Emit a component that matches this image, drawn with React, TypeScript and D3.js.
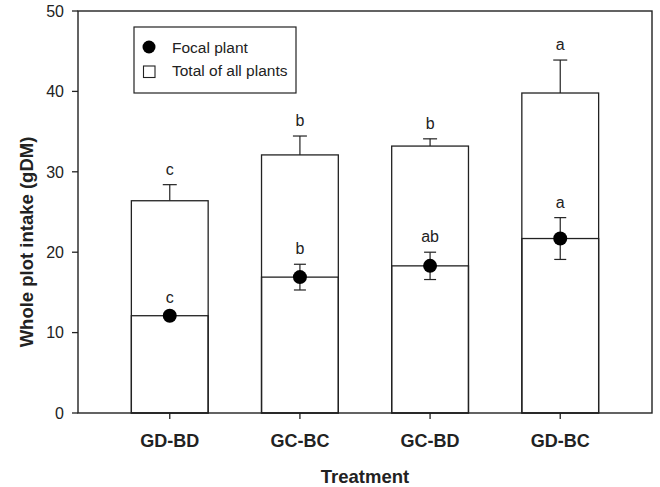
import React from 'react';
import * as d3 from 'd3';

const treatments = ['GD-BD', 'GC-BC', 'GC-BD', 'GD-BC'];
const totalMean = [26.4, 32.1, 33.2, 39.8];
const totalSE = [2.0, 2.35, 0.9, 4.1];
const totalLetters = ['c', 'b', 'b', 'a'];
const focalMean = [12.1, 16.9, 18.3, 21.7];
const focalSE = [0.3, 1.6, 1.7, 2.6];
const focalLetters = ['c', 'b', 'ab', 'a'];
const yTicks = [0, 10, 20, 30, 40, 50];

const width = 660;
const height = 487;
const margin = { top: 11, left: 78, bottom: 74, right: 8 };
const font = 'Arial, "Liberation Sans", sans-serif';
const ink = '#222';

export default function App() {
  const iwidth = width - margin.left - margin.right;
  const iheight = height - margin.top - margin.bottom;

  const x = d3.scaleBand()
    .domain(treatments)
    .range([0, iwidth])
    .paddingInner(0.41)
    .paddingOuter(0.41);
  const y = d3.scaleLinear().domain([0, 50]).range([iheight, 0]);
  const bw = x.bandwidth();

  return (
    <svg width={width} height={height} style={{ position: 'absolute', left: 0, top: 0 }}>
      <rect width={width} height={height} fill="white" />
      <g transform={`translate(${margin.left},${margin.top})`} fontFamily={font} fill={ink}>
        {treatments.map((t, i) => {
          const cx = x(t)! + bw / 2;
          const tTop = y(totalMean[i] + totalSE[i]);
          const fTop = y(focalMean[i] + focalSE[i]);
          const fBot = y(focalMean[i] - focalSE[i]);
          return (
            <g key={t}>
              <line x1={cx} x2={cx} y1={y(totalMean[i])} y2={tTop} stroke={ink} strokeWidth={1.2} />
              <line x1={cx - 7} x2={cx + 7} y1={tTop} y2={tTop} stroke={ink} strokeWidth={1.2} />
              <rect x={x(t)} y={y(totalMean[i])} width={bw} height={iheight - y(totalMean[i])} fill="white" stroke={ink} strokeWidth={1.3} />
              <rect x={x(t)} y={y(focalMean[i])} width={bw} height={iheight - y(focalMean[i])} fill="none" stroke={ink} strokeWidth={1.3} />
              <text x={cx} y={tTop - 10} textAnchor="middle" fontSize={16}>{totalLetters[i]}</text>
              <line x1={cx} x2={cx} y1={fBot} y2={fTop} stroke={ink} strokeWidth={1.2} />
              <line x1={cx - 6} x2={cx + 6} y1={fTop} y2={fTop} stroke={ink} strokeWidth={1.2} />
              <line x1={cx - 6} x2={cx + 6} y1={fBot} y2={fBot} stroke={ink} strokeWidth={1.2} />
              <circle cx={cx} cy={y(focalMean[i])} r={7} fill="black" />
              <text x={cx} y={fTop - 10} textAnchor="middle" fontSize={16}>{focalLetters[i]}</text>
            </g>
          );
        })}

        <rect x={0} y={0} width={iwidth} height={iheight} fill="none" stroke={ink} strokeWidth={1.4} />

        {yTicks.map(v => (
          <g key={v} transform={`translate(0,${y(v)})`}>
            <line x1={-6} x2={0} stroke={ink} strokeWidth={1.3} />
            <text x={-14} dy="0.36em" textAnchor="end" fontSize={16}>{v}</text>
          </g>
        ))}

        {treatments.map(t => (
          <g key={t} transform={`translate(${x(t)! + bw / 2},${iheight})`}>
            <line y1={0} y2={6} stroke={ink} strokeWidth={1.3} />
            <text y={34} textAnchor="middle" fontSize={18} fontWeight="bold">{t}</text>
          </g>
        ))}

        <text x={iwidth / 2} y={iheight + 70} textAnchor="middle" fontSize={18.5} fontWeight="bold">Treatment</text>
        <text transform={`translate(${-45},${231}) rotate(-90)`} textAnchor="middle" fontSize={18.5} fontWeight="bold">Whole plot intake (gDM)</text>

        <g transform="translate(56,16)">
          <rect width={162} height={66} fill="white" stroke={ink} strokeWidth={1.2} />
          <circle cx={15} cy={20} r={6.5} fill="black" />
          <text x={38} y={25.5} fontSize={15.5}>Focal plant</text>
          <rect x={9.5} y={39} width={11.5} height={11.5} fill="white" stroke={ink} strokeWidth={1.1} />
          <text x={38} y={49} fontSize={15.5}>Total of all plants</text>
        </g>
      </g>
    </svg>
  );
}
